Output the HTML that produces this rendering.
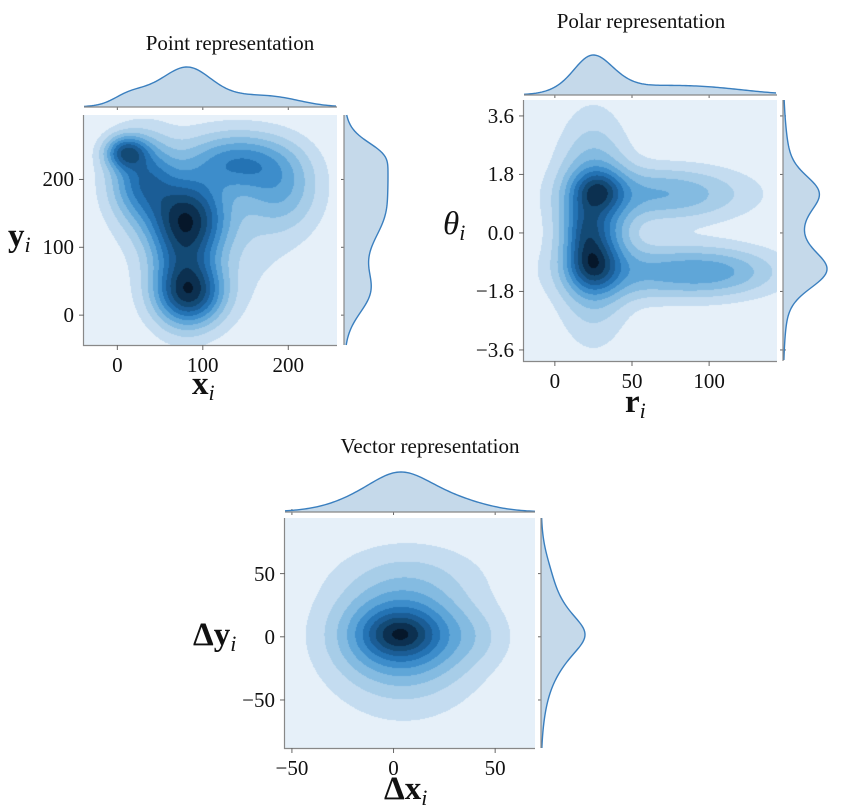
<!DOCTYPE html>
<html><head><meta charset="utf-8">
<style>
body{margin:0;background:#fff;width:845px;height:810px;position:relative;overflow:hidden;font-family:"Liberation Serif",serif}
.t{position:absolute;font-size:21px;color:#111;white-space:nowrap;transform:translateX(-50%)}
.lab{position:absolute;font-size:33px;color:#111;white-space:nowrap;font-weight:bold}
.lab i{font-weight:normal;font-size:22px;position:relative;top:6px}
canvas{position:absolute}
svg{position:absolute;left:0;top:0}
</style></head><body>
<canvas id="c1"></canvas>
<canvas id="c2"></canvas>
<canvas id="c3"></canvas>
<svg id="s" width="845" height="810"></svg>
<div class="t" style="left:230px;top:31px">Point representation</div>
<div class="t" style="left:641px;top:9px">Polar representation</div>
<div class="t" style="left:430px;top:434px">Vector representation</div>
<div class="lab" style="left:192px;top:366px">x<i>i</i></div>
<div class="lab" style="left:8px;top:218px">y<i>i</i></div>
<div class="lab" style="left:625px;top:384px">r<i>i</i></div>
<div class="lab" style="left:443px;top:206px;font-weight:normal;font-style:italic">θ<i>i</i></div>
<div class="lab" style="left:384px;top:771px">Δx<i>i</i></div>
<div class="lab" style="left:193px;top:617px">Δy<i>i</i></div>
<script>
// Panel 1 mixture components (x, y, sx, sy, weight)
const p1X=[10,82,85,30,140,78,190,110];
const p1Y=[240,145,32,200,225,80,185,130];
const p1SX=[16,30,26,25,40,25,30,65];
const p1SY=[16,38,30,40,28,55,40,85];
const p1W=[0.42,0.5,0.48,0.4,0.32,0.3,0.2,0.08];
const p1XTicks=[0,100,200];
const p1YTicks=[0,100,200];
// Panel 2
const p2X=[28,25,20,70,75,25,110];
const p2Y=[1.3,-1.0,0,1.2,-1.2,0.2,-1.2];
const p2SX=[10,10,8,35,40,15,22];
const p2SY=[0.4,0.5,0.6,0.55,0.55,1.75,0.45];
const p2W=[0.3,0.32,0.2,0.26,0.28,0.45,0.1];
const p2XTicks=[0,50,100];
const p2YTicks=[3.6,1.8,0.0,-1.8,-3.6];
// Panel 3
const p3X=[3,3,5,40,10];
const p3Y=[2,2,0,0,50];
const p3SX=[10,18,24,12,25];
const p3SY=[10,20,36,15,16];
const p3W=[0.35,0.5,0.35,0.08,0.07];
const p3XTicks=[-50,0,50];
const p3YTicks=[50,0,-50];

const COLORS=['#e6f0f9','#c4dcf0','#a7cde8','#84bbe1','#5fa6d8','#3d8dcb','#2473b4','#1b5d96','#134a75','#0c3050','#06172a'];
const S=document.getElementById('s');
function el(t,a){const e=document.createElementNS('http://www.w3.org/2000/svg',t);for(const k in a)e.setAttribute(k,a[k]);S.appendChild(e);return e;}
function tick(x,y,txt){const d=document.createElement('div');d.className='t';d.style.left=x+'px';d.style.top=y+'px';d.textContent=txt;


document.body.appendChild(d);}

function panel(id,L,T,W,H,x0,x1,y0,y1,MX,MY,SX,SY,WW,xt,yt,fx,fy,top,right,gam){
  const xs=v=>L+(v-x0)/(x1-x0)*W, ys=v=>T+(y1-v)/(y1-y0)*H;
  const c=document.getElementById(id);c.width=W;c.height=H;c.style.left=L+'px';c.style.top=T+'px';
  const g=c.getContext('2d');
  const dens=(x,y)=>{let s=0;for(let k=0;k<MX.length;k++){const a=(x-MX[k])/SX[k],b=(y-MY[k])/SY[k];s+=WW[k]*Math.exp(-0.5*(a*a+b*b));}return s;};
  const D=new Float32Array(W*H);let mx=0;
  for(let j=0;j<H;j++)for(let i=0;i<W;i++){const x=x0+(i+0.5)/W*(x1-x0),y=y1-(j+0.5)/H*(y1-y0);const d=dens(x,y);D[j*W+i]=d;if(d>mx)mx=d;}
  const img=g.createImageData(W,H);
  for(let p=0;p<W*H;p++){const lv=Math.min(10,Math.floor(Math.pow(D[p]/mx,gam)*10.3));const h=COLORS[lv];
    img.data[p*4]=parseInt(h.substr(1,2),16);img.data[p*4+1]=parseInt(h.substr(3,2),16);img.data[p*4+2]=parseInt(h.substr(5,2),16);img.data[p*4+3]=255;}
  g.putImageData(img,0,0);
  const sp=el('path',{d:`M${L-0.5},${T} V${T+H+0.5} H${L+W}`,stroke:'#888',fill:'none','stroke-width':1.2});
  
  
  xt.forEach(v=>{const x=xs(v);el('line',{x1:x,x2:x,y1:T+H,y2:T+H+5,stroke:'#666'});tick(x,T+H+8,fx(v));
    el('line',{x1:x,x2:x,y1:top-3,y2:top+3,stroke:'#666'});});
  yt.forEach(v=>{const y=ys(v);el('line',{x1:L-5,x2:L,y1:y,y2:y,stroke:'#666'});
    const d=document.createElement('div');d.className='t';d.style.left=(L-10)+'px';d.style.top=(y-12)+'px';d.style.transform='translateX(-100%)';d.textContent=fy(v);
    
    
    document.body.appendChild(d);
    el('line',{x1:right-3,x2:right+3,y1:y,y2:y,stroke:'#666'});});
  const mxf=x=>{let s=0;for(let k=0;k<MX.length;k++){const a=(x-MX[k])/SX[k];s+=WW[k]*SY[k]*Math.exp(-0.5*a*a);}return s;};
  const myf=y=>{let s=0;for(let k=0;k<MX.length;k++){const b=(y-MY[k])/SY[k];s+=WW[k]*SX[k]*Math.exp(-0.5*b*b);}return s;};
  let pts=[],m=0;for(let i=0;i<=W;i+=2){const v=mxf(x0+i/W*(x1-x0));pts.push([L+i,v]);if(v>m)m=v;}
  let d=`M${L},${top}`;pts.forEach(p=>d+=` L${p[0]},${top-p[1]/m*40}`);
  const tf=el('path',{d:d+` L${L+W},${top} Z`,fill:'#c5d9ea',stroke:'none'});
  
  
  const tl=el('path',{d:d.replace(`M${L},${top} L`,'M'),fill:'none',stroke:'#3a7fbf','stroke-width':1.4});
  
  
  el('line',{x1:L,x2:L+W,y1:top,y2:top,stroke:'#888','stroke-width':1.2});
  pts=[];m=0;for(let j=0;j<=H;j+=2){const v=myf(y1-j/H*(y1-y0));pts.push([T+j,v]);if(v>m)m=v;}
  d=`M${right},${T}`;pts.forEach(p=>d+=` L${right+p[1]/m*44},${p[0]}`);
  const rf=el('path',{d:d+` L${right},${T+H} Z`,fill:'#c5d9ea',stroke:'none'});
  
  
  const rl=el('path',{d:d.replace(`M${right},${T} L`,'M'),fill:'none',stroke:'#3a7fbf','stroke-width':1.4});
  
  
  el('line',{x1:right,x2:right,y1:T,y2:T+H,stroke:'#888','stroke-width':1.2});
}
const f0=v=>v<0?'\u2212'+(-v):String(v);
const f1=v=>v<0?'\u2212'+(-v).toFixed(1):v.toFixed(1);
panel('c1',84,115,253,230,-39,257,-44,295,p1X,p1Y,p1SX,p1SY,p1W,p1XTicks,p1YTicks,f0,f0,107,344,0.8);
panel('c2',524,100,253,261,-20,144,-3.94,4.09,p2X,p2Y,p2SX,p2SY,p2W,p2XTicks,p2YTicks,f0,f1,95,783,0.8);
panel('c3',285,518,250,230,-53.4,69.6,-88,94,p3X,p3Y,p3SX,p3SY,p3W,p3XTicks,p3YTicks,f0,f0,512,541,0.8);
</script>
</body></html>
